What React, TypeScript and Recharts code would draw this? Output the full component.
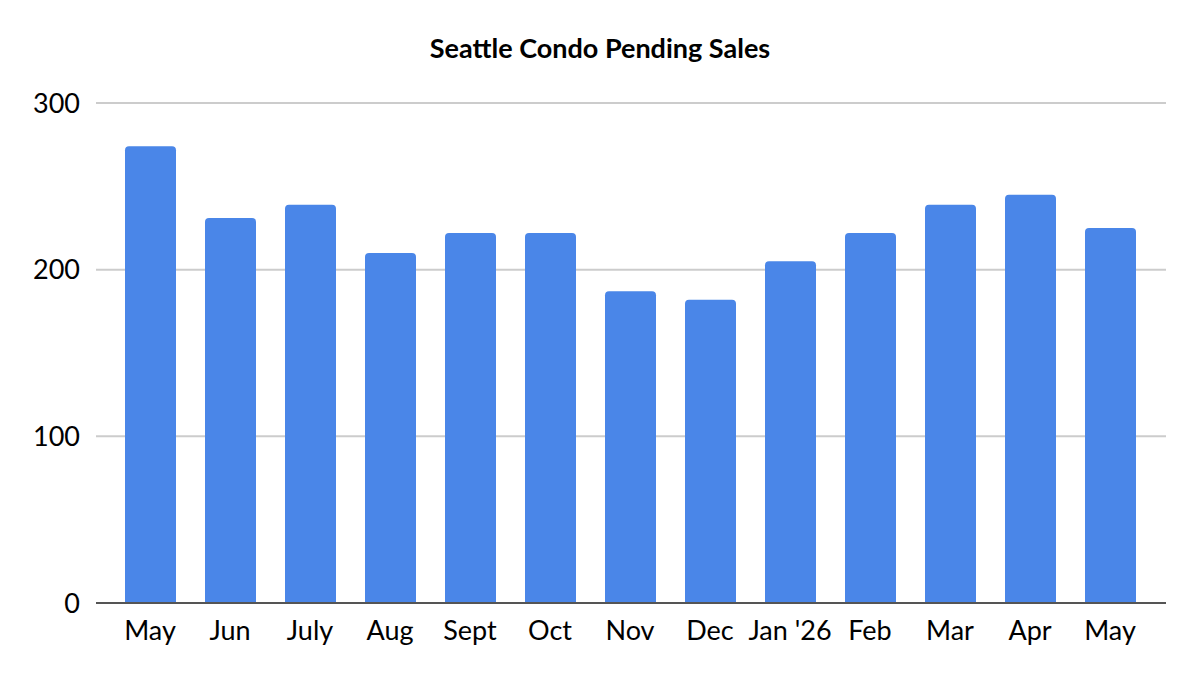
import React from "react";
import { BarChart, Bar, XAxis, YAxis, CartesianGrid } from "recharts";

const months = ["May", "Jun", "July", "Aug", "Sept", "Oct", "Nov", "Dec", "Jan '26", "Feb", "Mar", "Apr", "May"];
const pendingSales = [274, 231, 239, 210, 222, 222, 187, 182, 205, 222, 239, 245, 225];
const yTicks = [0, 100, 200, 300];

const data = months.map((m, i) => ({ key: `${m}-${i}`, month: m, value: pendingSales[i] }));

const FONT = "Lato, 'Open Sans', sans-serif";

export default function App() {
  return (
    <div style={{ position: "absolute", left: 0, top: 0, width: 1200, height: 684, background: "#fff", fontFamily: FONT }}>
      <div
        style={{
          position: "absolute",
          top: 31,
          left: 0,
          width: 1200,
          textAlign: "center",
          fontWeight: 700,
          fontSize: 27,
          color: "#000",
        }}
      >
        Seattle Condo Pending Sales
      </div>
      <BarChart
        width={1200}
        height={684}
        data={data}
        margin={{ top: 103, right: 34, left: 0, bottom: 0 }}
      >
        <CartesianGrid vertical={false} stroke="#cccccc" strokeWidth={2} />
        <XAxis
          dataKey="key"
          tickFormatter={(_v, i) => months[i]}
          interval={0}
          padding={{ left: 14, right: 16 }}
          axisLine={{ stroke: "#555555", strokeWidth: 2 }}
          tickLine={false}
          tickMargin={12}
          tick={{ fill: "#000", fontSize: 27, fontFamily: FONT }}
          height={81}
        />
        <YAxis
          domain={[0, 300]}
          ticks={yTicks}
          width={96}
          axisLine={false}
          tickLine={false}
          tickMargin={10}
          tick={{ fill: "#000", fontSize: 27, fontFamily: FONT }}
        />
        <Bar dataKey="value" fill="#4a86e8" barSize={51} radius={[4, 4, 0, 0]} isAnimationActive={false} />
      </BarChart>
    </div>
  );
}
